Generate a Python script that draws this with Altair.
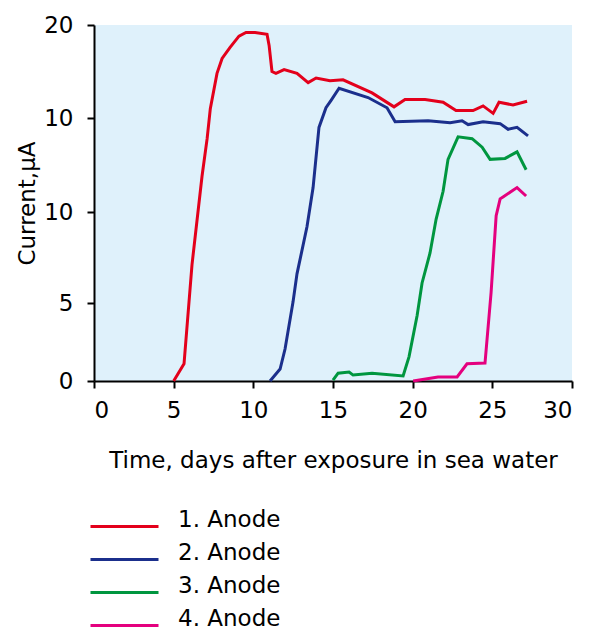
import altair as alt
import pandas as pd

# Series values (time in days, current in µA)
x1 = [5.0, 5.65, 6.15, 6.78, 7.1, 7.3, 7.72, 8.04, 8.54, 9.1, 9.54, 10.11, 10.86, 10.99, 11.17, 11.42, 11.93, 12.74, 13.44, 13.94, 14.81, 15.63, 17.45, 18.83, 19.52, 20.78, 21.91, 22.72, 23.79, 24.42, 25.05, 25.42, 26.3, 27.18]
y1 = [0.0, 1.1, 7.1, 11.9, 13.9, 15.5, 17.4, 18.2, 18.8, 19.4, 19.6, 19.6, 19.5, 18.9, 17.5, 17.4, 17.6, 17.4, 16.9, 17.15, 17.0, 17.05, 16.35, 15.6, 16.0, 16.0, 15.85, 15.4, 15.4, 15.65, 15.25, 15.85, 15.7, 15.9]

x2 = [11.05, 11.68, 11.99, 12.49, 12.74, 13.37, 13.75, 14.12, 14.56, 14.88, 15.38, 17.2, 18.39, 18.9, 20.97, 22.35, 23.1, 23.48, 24.42, 25.49, 25.99, 26.55, 27.24]
y2 = [0.0, 0.77, 2.05, 5.05, 6.6, 9.2, 11.3, 14.5, 15.55, 15.95, 16.6, 16.1, 15.55, 14.8, 14.85, 14.75, 14.85, 14.65, 14.8, 14.7, 14.4, 14.5, 14.05]

x3 = [15.0, 15.32, 16.01, 16.26, 17.45, 19.4, 19.77, 20.28, 20.59, 21.09, 21.47, 21.91, 22.22, 22.85, 23.73, 24.36, 24.86, 25.8, 26.55, 27.12]
y3 = [0.05, 0.5, 0.58, 0.38, 0.5, 0.32, 1.55, 4.2, 6.1, 7.75, 9.6, 11.1, 12.8, 14.0, 13.9, 13.45, 12.8, 12.85, 13.2, 12.25]

x4 = [20.03, 21.59, 22.79, 23.41, 24.54, 24.92, 25.24, 25.49, 25.67, 26.55, 27.12]
y4 = [0.0, 0.26, 0.26, 1.1, 1.15, 5.55, 9.8, 10.7, 10.8, 11.3, 10.85]

series_names = ["1. Anode", "2. Anode", "3. Anode", "4. Anode"]
series_colors = ["#e3001b", "#1b2f8c", "#00963f", "#e4007e"]

y_ticks = [0, 5, 10, 15, 20]
x_ticks = [0, 5, 10, 15, 20, 25, 30]

rows = []
for name, xs, ys in zip(series_names, [x1, x2, x3, x4], [y1, y2, y3, y4]):
    for i, (xv, yv) in enumerate(zip(xs, ys)):
        rows.append({"series": name, "t": xv, "current": yv, "order": i})
df = pd.DataFrame(rows)

FONT = "DejaVu Sans"
W, H = 478, 356

chart = alt.Chart(df).mark_line(strokeWidth=3).encode(
    x=alt.X("t:Q",
            scale=alt.Scale(domain=[0, 30], nice=False, zero=False),
            axis=alt.Axis(title="Time, days after exposure in sea water",
                          values=x_ticks, labelPadding=11, titlePadding=27)),
    y=alt.Y("current:Q",
            scale=alt.Scale(domain=y_ticks, range=[H, 278, 187, 93, 0], nice=False, zero=False),
            axis=alt.Axis(title="Current,µA", values=y_ticks,
                          labelExpr="datum.value == 15 ? '10' : datum.label",
                          labelPadding=14, titlePadding=4)),
    color=alt.Color("series:N",
                    scale=alt.Scale(domain=series_names, range=series_colors),
                    legend=alt.Legend(title=None, orient="none", legendX=19, legendY=490,
                                      symbolType="M-3.4,0H3.4", symbolSize=400,
                                      symbolStrokeWidth=3, labelOffset=42,
                                      labelFontSize=23, labelFont=FONT,
                                      labelBaseline="alphabetic", padding=0,
                                      rowPadding=8)),
    order="order:Q",
).properties(
    width=W, height=H,
    autosize=alt.AutoSizeParams(type="none"),
    padding={"left": 86, "top": 17, "right": 10, "bottom": 246},
).configure_view(
    fill="#dff1fb", stroke=None
).configure_axis(
    grid=False, domainColor="black", domainWidth=2, tickColor="black", tickWidth=2,
    tickSize=7, labelFont=FONT, labelFontSize=23, labelColor="black",
    titleFont=FONT, titleFontSize=23, titleFontWeight="normal", titleColor="black",
)

chart.save("out.html", embed_options={"renderer": "svg", "actions": False})
